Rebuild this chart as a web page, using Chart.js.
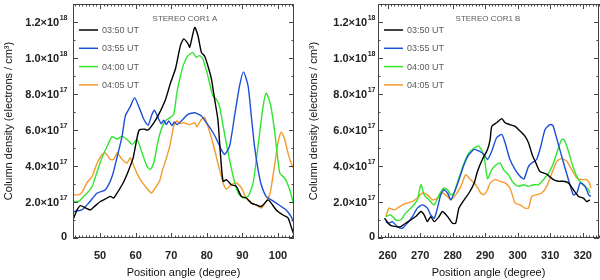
<!DOCTYPE html>
<html>
<head>
<meta charset="utf-8">
<script src="https://cdn.jsdelivr.net/npm/chart.js@4"></script>
<style>
  html, body { margin: 0; padding: 0; background: #fff; }
  #wrap { position: relative; width: 600px; height: 280px; }
  canvas { position: absolute; top: 0; }
  #corA { left: 0; }
  #corB { left: 300px; }
</style>
</head>
<body>
<div id="wrap">
  <canvas id="corA" width="300" height="280"></canvas>
  <canvas id="corB" width="300" height="280"></canvas>
</div>
<script>
// Column density, units of 1e17 electrons / cm^3, as [position angle, value]
const seriesNames = ['03:50 UT', '03:55 UT', '04:00 UT', '04:05 UT'];
const seriesColors = ['#000000', '#1c4fd8', '#2fe52f', '#f59a2c'];

// STEREO COR1 A
const a0350 = [[42.6,1.1],[43.5,1.55],[44.5,1.8],[45.9,1.67],[47.3,1.56],[48.7,1.8],[50.1,2.03],[51.5,2.17],[52.9,2.31],[53.8,2.22],
  [54.8,2.5],[56.5,3.07],[57.9,3.7],[59.3,4.45],[60.3,5.47],[61.0,6.0],[62.3,6.05],[63.5,6.0],[65.1,6.4],[66.5,6.87],[68.4,7.7],
  [69.7,8.55],[71.2,9.4],[72.6,10.7],[73.5,11.06],[74.7,10.8],[75.2,10.6],[76.6,11.7],[77.5,11.25],[78.5,10.3],[79.4,10.1],
  [80.3,9.57],[81.3,8.83],[82.2,7.7],[83.1,6.6],[83.6,5.3],[84.1,3.98],[84.6,3.15],[85.5,3.24],[86.9,2.96],[88.3,2.87],
  [89.7,2.31],[91.1,2.22],[92.5,1.94],[93.9,1.84],[95.3,1.75],[97.2,2.12],[98.1,1.94],[99.5,1.56],[101.4,1.28],[102.8,1.12],
  [103.7,0.63],[104.5,0.17]];
const a0355 = [[42.6,1.47],[44.9,1.56],[46.8,1.94],[49.2,2.5],[51.5,2.68],[53.4,3.43],[54.8,4.5],[56.2,5.66],[57.1,6.78],[58.5,7.3],
  [59.7,7.8],[60.9,7.3],[62.3,6.6],[63.5,6.26],[64.6,6.87],[65.3,7.1],[66.5,6.6],[67.2,6.35],[67.9,6.55],[68.6,6.3],[69.3,6.5],
  [70.2,6.25],[70.9,6.45],[71.6,6.3],[73.3,6.6],[74.7,6.87],[76.6,6.96],[78.5,6.78],[79.9,6.4],[81.3,6.0],[82.7,5.5],[84.1,4.9],
  [85,4.64],[86.4,5.1],[87.8,6.78],[89.2,8.45],[90.3,9.23],[91.6,8.45],[92.5,6.78],[93.4,5.1],[94.4,3.8],[95.3,2.96],[96.7,2.3],
  [98.1,2.12],[99.5,1.94],[100.9,1.75],[102.3,1.56],[103.7,1.19],[104.5,0.82]];
const a0400 = [[42.6,2.03],[44,2.03],[45.4,2.31],[46.8,2.59],[47.8,2.87],[49.2,3.7],[50.6,4.5],[52,5.1],[53.4,5.63],[54.8,5.5],
  [56.2,5.66],[57.6,5.47],[59,5.2],[60.4,5.47],[61.8,4.73],[63.2,3.98],[64.1,3.8],[65.1,4.17],[66,5.1],[66.9,5.85],[68.3,6.5],
  [69.7,6.69],[70.7,6.87],[71.6,8.08],[72.6,9.0],[73.5,9.66],[74.7,10.13],[76.1,10.3],[77,10.04],[78,10.13],[78.9,9.94],
  [80.3,9.0],[81.7,7.9],[82.7,7.7],[83.6,7.3],[84.6,6.2],[86,4.73],[87.4,3.43],[88.8,2.5],[90.2,2.22],[91.6,2.31],[93,3.06],
  [94.4,5.1],[95.8,7.3],[96.7,8.05],[97.8,7.5],[99,6.03],[100.5,3.6],[101.9,3.33],[103.3,2.68],[104.5,1.8]];
const a0405 = [[42.6,2.4],[44,2.4],[44.9,2.53],[46.3,3.06],[47.8,3.43],[49.2,4.17],[50.6,4.64],[51.5,4.73],[52.9,4.36],[53.8,4.36],
  [54.8,4.73],[56.2,4.36],[57.6,4.17],[58.5,4.45],[59.9,3.8],[61.3,3.24],[62.7,2.87],[64.4,2.5],[65.5,2.78],[66.7,3.15],[67.6,3.8],
  [68.8,4.54],[69.8,5.29],[70.7,6.22],[71.6,6.5],[72.6,6.37],[73.5,6.4],[75.2,6.3],[76.6,6.4],[77.2,6.18],[78.5,6.6],[79.4,6.69],
  [80.3,6.2],[81.7,5.29],[83.1,4.17],[84.6,3.06],[85.5,2.72],[86.9,2.96],[88.3,3.06],[89.7,2.78],[91.1,2.22],[92.5,1.94],
  [93.9,1.84],[95.3,1.66],[96.7,2.03],[97.8,2.5],[99,3.98],[100,5.29],[100.9,5.88],[101.9,5.47],[102.8,4.73],[103.7,4.17],[104.5,3.8]];

// STEREO COR1 B
const b0350 = [[259,1.1],[260.6,0.73],[262.5,0.63],[264,0.63],[265.5,0.82],[267.1,1.0],[268.6,1.19],[270.2,1.47],[271.2,1.28],
  [272.2,0.91],[273.2,1.19],[274.3,0.91],[275.8,1.19],[276.8,1.47],[278.4,1.19],[279.9,0.82],[280.9,0.82],[281.9,1.66],[283.5,2.12],
  [285,2.5],[286.6,3.06],[287.6,3.7],[289.1,4.36],[290.7,4.92],[291.5,5.47],[292,6.2],[293.5,6.4],[295.1,6.63],[296.1,6.4],
  [297.6,6.3],[299.2,6.2],[300.7,5.94],[302.2,5.66],[303.3,5.29],[304.5,4.6],[305.5,4.2],[306.8,3.7],[308.9,3.55],[311,3.24],
  [312.5,3.15],[314.1,3.15],[315.6,3.06],[317.1,2.68],[318.7,2.31],[320.2,2.22],[321.2,2.03],[322.2,2.12]];
const b0355 = [[259.4,0.91],[260.4,0.82],[261.4,0.91],[263,0.63],[264.5,0.54],[266,0.82],[267.6,1.19],[269.1,1.66],[270.7,1.84],
  [272.2,1.66],[273.2,1.28],[274.3,1.1],[275.3,1.66],[276.3,2.4],[277.3,2.68],[278.4,2.5],[279.4,2.12],[280.4,2.5],[281.9,3.24],
  [283.5,4.08],[285,4.64],[286.6,4.92],[288.1,4.82],[289.6,4.64],[290.7,4.36],[292,4.82],[293.5,5.57],[295.1,5.75],[296.1,5.29],
  [297.6,4.36],[299.2,3.8],[300.7,3.43],[301.9,3.28],[303.3,3.98],[304.3,4.17],[305.8,4.36],[307.1,5.1],[308.4,6.03],[309.9,6.3],
  [310.8,6.26],[311.5,5.85],[312.5,5.2],[314.1,4.17],[315.6,3.24],[317.1,2.4],[318.2,2.5],[319.2,3.06],[320.7,2.87],[321.8,2.4],[322.5,2.31]];
const b0400 = [[259.4,1.19],[260.9,1.28],[262.5,1.0],[264,1.0],[265.5,1.38],[267.6,1.75],[269.1,2.12],[270.2,2.96],[271.2,2.4],
  [272.7,2.12],[274.3,1.84],[275.8,2.4],[277.3,2.78],[278.4,2.68],[279.4,2.4],[280.4,2.5],[281.9,3.33],[283.5,4.17],[285,4.73],
  [286.6,5.0],[288.1,5.1],[289.6,4.54],[290.7,3.3],[292,3.8],[293.5,4.08],[294.6,4.17],[295.6,3.8],[297.1,3.52],[298.7,3.06],
  [300.2,2.87],[301.8,2.96],[303.3,2.87],[304.8,2.96],[306.4,2.96],[307.9,3.24],[309.5,3.6],[311,4.17],[312.5,5.0],[313.5,5.47],
  [314.3,5.47],[315.6,4.82],[317.1,3.9],[318.7,3.24],[320.2,2.96],[321.8,2.68],[322.2,2.5]];
const b0405 = [[259.4,1.19],[260.4,1.66],[262,1.56],[263,1.66],[264.5,1.84],[266,1.94],[267.6,2.03],[269.1,2.22],[270.7,2.5],
  [272.2,2.4],[273.8,2.12],[275.3,2.22],[276.8,2.5],[278.4,2.31],[279.4,2.12],[280.9,2.4],[282.5,2.87],[284,3.52],[285.5,3.24],
  [287.1,2.96],[288.6,2.5],[289.6,2.4],[290.7,2.68],[291.5,3.06],[293,3.24],[294.6,3.15],[296.1,3.06],[297.6,2.78],[299.2,1.94],
  [300.7,1.84],[302.2,1.66],[303.3,1.66],[304.3,2.31],[305.8,2.4],[307.4,2.5],[308.9,2.87],[310.5,3.6],[312,4.26],[313.5,4.41],
  [315.1,4.26],[316.6,3.8],[318.2,3.33],[319.7,3.24],[321.2,3.24],[322,3.06],[322.5,2.78]];

// Tick labels
const xTicksA = [50, 60, 70, 80, 90, 100];
const xTicksB = [260, 270, 280, 290, 300, 310, 320];
const yTicks = [0, 2, 4, 6, 8, 10, 12];

const FONT = '"Liberation Sans", Arial, sans-serif';

// frame, inward ticks, labels and legend (IDL look)
const framePlugin = {
  id: 'frame',
  afterDraw(chart, args, o) {
    const { ctx, chartArea: a } = chart;
    const x = chart.scales.x, y = chart.scales.y;
    ctx.save();
    ctx.strokeStyle = '#444';
    ctx.lineWidth = 1;
    ctx.strokeRect(a.left + 0.5, a.top + 0.5, a.right - a.left - 1, a.bottom - a.top - 1);

    ctx.beginPath();
    for (let v = Math.ceil(x.min); v <= x.max; v++) {
      const px = Math.round(x.getPixelForValue(v)) + 0.5;
      const len = v % 10 === 0 ? 5 : 2.5;
      ctx.moveTo(px, a.bottom); ctx.lineTo(px, a.bottom - len);
      ctx.moveTo(px, a.top); ctx.lineTo(px, a.top + len);
    }
    for (let v = 0; v <= y.max; v++) {
      const py = Math.round(y.getPixelForValue(v)) + 0.5;
      const len = v % 2 === 0 ? 5 : 2.5;
      ctx.moveTo(a.left, py); ctx.lineTo(a.left + len, py);
      ctx.moveTo(a.right, py); ctx.lineTo(a.right - len, py);
    }
    ctx.stroke();

    // x tick labels
    ctx.fillStyle = '#222';
    ctx.font = 'bold 11px ' + FONT;
    ctx.textAlign = 'center';
    ctx.textBaseline = 'middle';
    o.xTicks.forEach(v => ctx.fillText(String(v), x.getPixelForValue(v), 256));

    // y tick labels with exponent
    const right = a.left - o.labelGap;
    yTicks.forEach(v => {
      const py = y.getPixelForValue(v);
      ctx.textAlign = 'left';
      if (v === 0) {
        ctx.font = 'bold 11px ' + FONT;
        const w = ctx.measureText('0').width;
        ctx.fillText('0', right - w, py - 1);
        return;
      }
      const mant = (v >= 10 ? v / 10 : v).toFixed(1) + '×10';
      const exp = v >= 10 ? '18' : '17';
      ctx.font = 'bold 11px ' + FONT;
      const w1 = ctx.measureText(mant).width;
      ctx.font = 'bold 7px ' + FONT;
      const w2 = ctx.measureText(exp).width;
      const x0 = right - w1 - w2;
      ctx.font = 'bold 11px ' + FONT;
      ctx.fillText(mant, x0, py + 1);
      ctx.font = 'bold 7px ' + FONT;
      ctx.fillText(exp, x0 + w1 + 0.5, py - 4);
    });

    // axis titles
    ctx.fillStyle = '#111';
    ctx.font = '11px ' + FONT;
    ctx.textAlign = 'center';
    ctx.fillText('Position angle (degree)', (a.left + a.right) / 2, 273);
    ctx.save();
    ctx.translate(o.yTitleX, 121);
    ctx.rotate(-Math.PI / 2);
    ctx.fillText('Column density (electrons / cm³)', 0, 0);
    ctx.restore();

    // title and legend inside the plot
    ctx.fillStyle = '#5a5a5a';
    ctx.font = '8px ' + FONT;
    ctx.fillText(o.title, o.titleX, 19);
    ctx.font = '9px ' + FONT;
    ctx.textAlign = 'left';
    chart.data.datasets.forEach((ds, i) => {
      const ly = 30 + i * 18.3;
      ctx.strokeStyle = ds.borderColor;
      ctx.lineWidth = 1.5;
      ctx.beginPath();
      ctx.moveTo(a.left + 6, ly); ctx.lineTo(a.left + 25, ly);
      ctx.stroke();
      ctx.fillText(ds.label, a.left + 29, ly + 0.5);
    });
    ctx.restore();
  }
};

function makeChart(id, series, xMin, xMax, xTicks, cfg) {
  return new Chart(document.getElementById(id), {
    type: 'line',
    data: {
      datasets: series.map((s, i) => ({
        label: seriesNames[i],
        data: s.map(p => ({ x: p[0], y: p[1] })),
        borderColor: seriesColors[i],
        borderWidth: 1.4,
        pointRadius: 0,
        tension: 0.2,
        fill: false
      }))
    },
    options: {
      responsive: false,
      animation: false,
      events: [],
      layout: { padding: { top: 4, right: cfg.padRight, left: 0, bottom: 0 } },
      plugins: {
        legend: { display: false },
        tooltip: { enabled: false },
        frame: { xTicks, title: cfg.title, titleX: cfg.titleX, labelGap: cfg.labelGap, yTitleX: cfg.yTitleX }
      },
      scales: {
        x: {
          type: 'linear', min: xMin, max: xMax,
          ticks: { display: false }, grid: { display: false }, border: { display: false },
          afterFit: s => { s.height = 42; }
        },
        y: {
          min: 0, max: 13,
          ticks: { display: false }, grid: { display: false }, border: { display: false },
          afterFit: s => { s.width = cfg.yWidth; }
        }
      }
    },
    plugins: [framePlugin]
  });
}

makeChart('corA', [a0350, a0355, a0400, a0405], 42.4, 104.5, xTicksA,
  { title: 'STEREO COR1 A', titleX: 185, padRight: 6, yWidth: 73, labelGap: 6, yTitleX: 9 });
makeChart('corB', [b0350, b0355, b0400, b0405], 257, 325, xTicksB,
  { title: 'STEREO COR1 B', titleX: 188, padRight: 1, yWidth: 78, labelGap: 3, yTitleX: 14 });
</script>
</body>
</html>
